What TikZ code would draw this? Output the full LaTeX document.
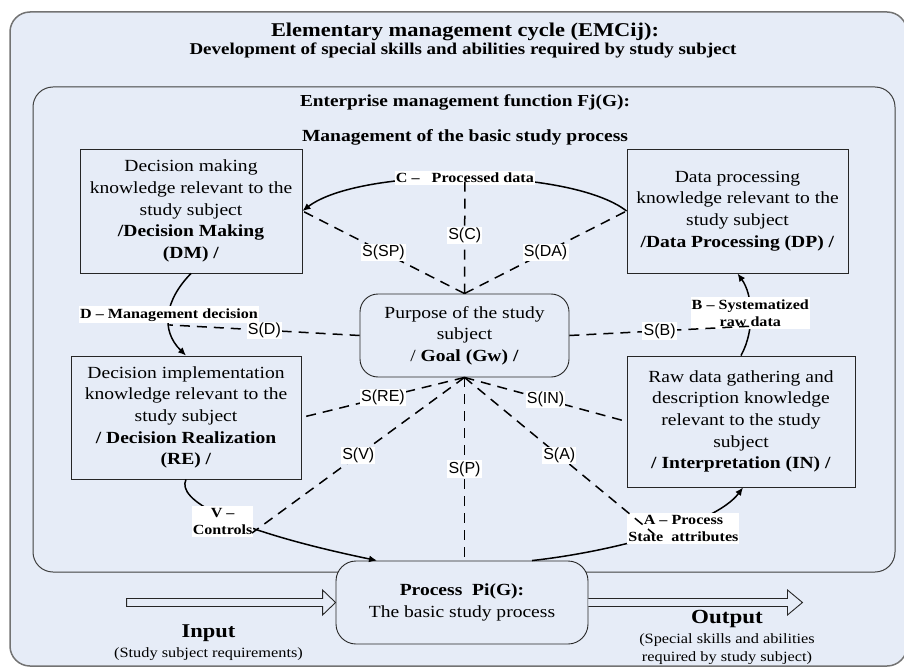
\documentclass[tikz,border=0pt]{standalone}
\usepackage{fontspec}
\setmainfont{Liberation Serif}[FakeStretch=1.15]
\newfontfamily\labelsans{Liberation Sans}
\usetikzlibrary{arrows.meta}

\definecolor{panel}{RGB}{230,236,247}

\begin{document}
\begin{tikzpicture}[x=1pt, y=-1pt,
  every node/.style={inner sep=0pt},
  kbox/.style={draw=black!85, line width=0.9pt, align=center,
    font=\fontsize{17}{21.6}\selectfont},
  rbox/.style={kbox, rounded corners=18pt},
  flow/.style={line width=1.5pt, -{Latex[length=8pt,width=7pt]}},
  flowlab/.style={fill=white, align=center, inner xsep=1pt, inner ysep=2pt,
    font=\fontsize{14}{17.5}\selectfont\bfseries},
  link/.style={line width=1.5pt, dash pattern=on 10pt off 7pt},
  slab/.style={fill=white, inner sep=1.2pt, font=\labelsans\fontsize{16}{18}\selectfont},
  hollow/.style={draw=black!85, line width=0.9pt, fill=panel, line join=miter},
  heading/.style={anchor=base, font=\fontsize{#1}{#1}\selectfont\bfseries},
]
\path[use as bounding box] (0,0) rectangle (904,668);
\clip (0,0) rectangle (904,668);

% management cycle panel and the management function panel inside it
\draw[draw=black!55, line width=1.5pt, fill=panel, rounded corners=20pt] (10,12) rectangle (907,666);
\draw[draw=black!75, line width=1pt, rounded corners=20pt] (33,87) rectangle (895,572);

% headings
\node[heading=19.5] (title) at (465,37) {Elementary management cycle (EMCij):};
\node[heading=16.5] (subtitle) at (463,55) {Development of special skills and abilities required by study subject};
\node[heading=16.8] (fname) at (465,107) {Enterprise management function Fj(G):};
\node[heading=17] (fsub) at (465,142) {Management of the basic study process};

% knowledge blocks
\node[kbox, minimum width=222pt, minimum height=124pt] (dm) at (191,211)
  {Decision making\\knowledge relevant to the\\study subject\\\textbf{/Decision Making}\\\textbf{(DM) /}};
\node[kbox, minimum width=221pt, minimum height=124pt] (dp) at (737.5,211)
  {Data processing\\knowledge relevant to the\\study subject\\\textbf{/Data Processing (DP) /}};
\node[rbox, minimum width=209pt, minimum height=83pt] (goal) at (464.5,335.5)
  {Purpose of the study\\subject\\/ \textbf{Goal (Gw) /}};
\node[kbox, minimum width=230pt, minimum height=123pt] (re) at (186,417.5)
  {Decision implementation\\knowledge relevant to the\\study subject\\\textbf{/ Decision Realization}\\\textbf{(RE) /}};
\node[kbox, minimum width=228pt, minimum height=131pt] (in) at (741,421.5)
  {Raw data gathering and\\description knowledge\\relevant to the study\\subject\\\textbf{/ Interpretation (IN) /}};
\node[rbox, rounded corners=20pt, fill=panel, minimum width=252pt, minimum height=83pt] (proc) at (462,602.5)
  {\textbf{Process~~Pi(G):}\\The basic study process};

% management cycle flows
\draw[flow] (dp.west) .. controls (570,167) and (360,167) .. (dm.east)
  node[flowlab, pos=0.5] (clab) {C –~~~Processed data};
\draw[flow] (dm.south) .. controls (165,300) and (160,330) .. (re.north)
  coordinate[pos=0.62] (dpt)
  node[flowlab, pos=0.5] (dlab) {D – Management decision};
\draw[flow] (re.south) .. controls (176,500) and (230,530) .. ([xshift=-85pt]proc.north)
  node[flowlab, pos=0.5, yshift=-5pt] (vlab) {V –\\Controls};
\draw[flow] ([xshift=70pt]proc.north) .. controls (610,552) and (715,525) .. ([xshift=2pt]in.south)
  node[flowlab, pos=0.62, yshift=-3pt] (alab) {A – Process\\State~~attributes};
\draw[flow] (in.north) .. controls (755,330) and (753,295) .. (dp.south)
  coordinate[pos=0.35] (bpt)
  node[flowlab, pos=0.5] (blab) {B – Systematized\\raw data};

% goal links
\coordinate (vpt) at (252,533);
\coordinate (apt) at (654,534);
\draw[link] (goal.north) -- (clab.center) node[slab, midway] (sc) {S(C)};
\draw[link] (goal.north) -- (dm.east) node[slab, midway] (ssp) {S(SP)};
\draw[link] (goal.north) -- (dp.west) node[slab, midway] (sda) {S(DA)};
\draw[link] (goal.west) -- (dpt) node[slab, midway] (sd) {S(D)};
\draw[link] (goal.east) -- (bpt) node[slab, midway] (sb) {S(B)};
\draw[link] (goal.south) -- (re.east) node[slab, midway] (sre) {S(RE)};
\draw[link] (goal.south) -- (in.west) node[slab, midway] (sin) {S(IN)};
\draw[link] (goal.south) -- (vpt) node[slab, midway] (sv) {S(V)};
\draw[link] (goal.south) -- (apt) node[slab, midway] (sa) {S(A)};
\draw[link] (goal.south) -- (goal.south |- proc.north) node[slab, midway] (sp) {S(P)};

% input and output of the process
\draw[hollow] (proc.west) -- ++(-13,-12.5) -- ++(0,8.5) -- ++(-196,0) -- ++(0,8)
  -- ++(196,0) -- ++(0,8.5) -- cycle;
\draw[hollow] (proc.east) ++(0,-4) -- ++(199,0) -- ++(0,-8.5) -- ++(15,12.5)
  -- ++(-15,12.5) -- ++(0,-8.5) -- ++(-199,0);
\node[heading=19.5] (inlab) at (208.5,637) {Input};
\node[anchor=base, font=\fontsize{14.2}{17}\selectfont] (insub) at (208.5,657) {(Study subject requirements)};
\node[heading=20] (outlab) at (727,623) {Output};
\node[anchor=base, font=\fontsize{14.2}{17}\selectfont] (outsub1) at (727,643) {(Special skills and abilities};
\node[anchor=base, font=\fontsize{14.2}{17}\selectfont] (outsub2) at (727,661) {required by study subject)};
\end{tikzpicture}
\end{document}
